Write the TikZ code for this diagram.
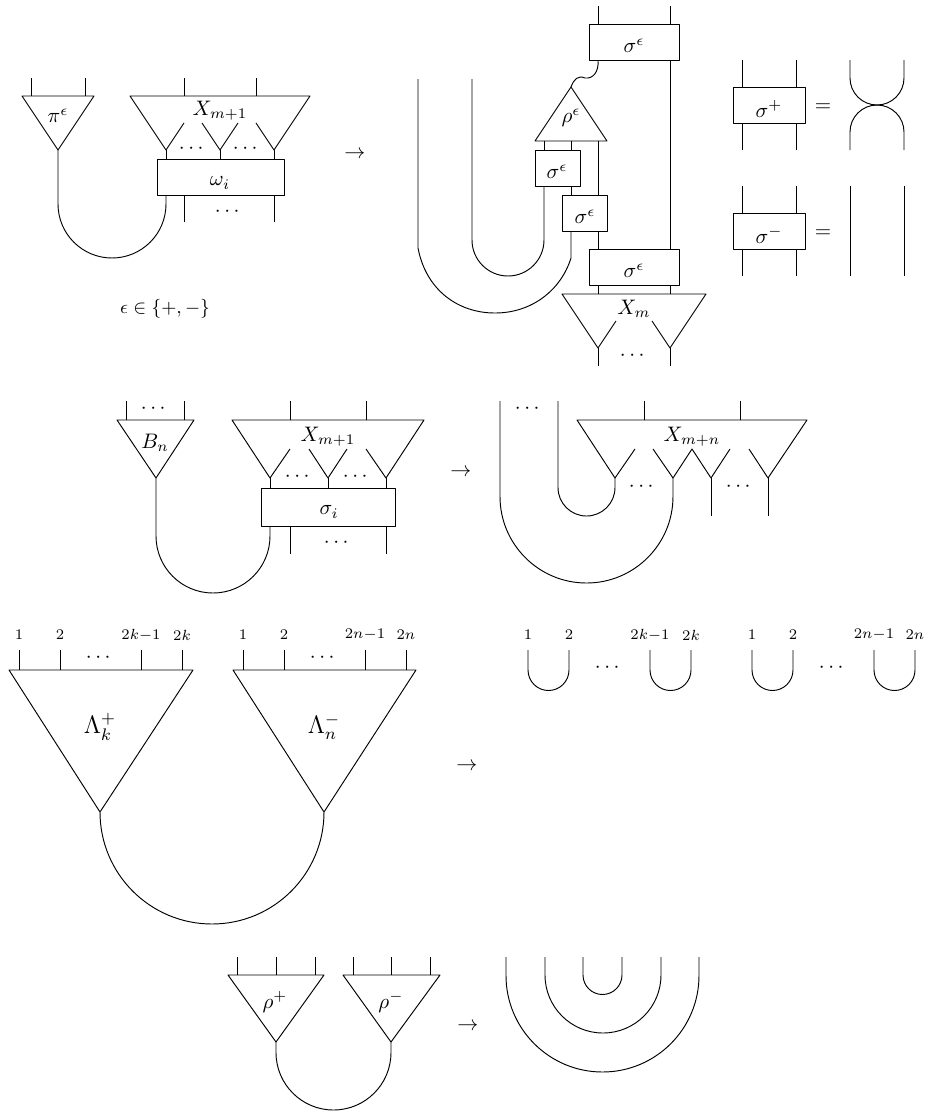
\documentclass[tikz,border=0pt]{standalone}
\usepackage{amsmath}
\tikzset{
  lab/.style={inner sep=0pt},
  numlab/.style={inner sep=0pt, font=\scriptsize},
}
\begin{document}
\begin{tikzpicture}[x=0.476pt, y=-0.476pt, line width=0.45pt, line join=round]
  \useasboundingbox (0, 0) rectangle (927, 1113);

  % Row 1, left: pi and X_{m+1} with omega_i
  \draw (22, 96) -- (94, 96) -- (58, 150) -- cycle;
  \draw (31, 78) -- (31, 96);
  \draw (85, 78) -- (85, 96);
  \node[lab] (piEps) at (58, 116) {$\pi^\epsilon$};
  \draw (58, 150) -- (58, 204) arc (180:0:54) -- (166, 195);
  \draw (184, 123) -- (166, 150) -- (130, 96) -- (310, 96) -- (274, 150) -- (256, 123);
  \draw (202, 123) -- (220, 150) -- (238, 123);
  \draw (184, 78) -- (184, 96);
  \draw (256, 78) -- (256, 96);
  \draw (166, 150) -- (166, 159);
  \draw (220, 150) -- (220, 159);
  \draw (274, 150) -- (274, 159);
  \draw (157, 159) rectangle (284, 195);
  \draw (184, 195) -- (184, 222);
  \draw (274, 195) -- (274, 222);
  \node[lab] (xTopA) at (220, 111) {$X_{m+1}$};
  \node[lab] (omegaI) at (220, 183) {$\omega_i$};
  \node[lab] (dotsA) at (193, 149) {$\cdots$};
  \node[lab] (dotsB) at (247, 149) {$\cdots$};
  \node[lab] (dotsC) at (229, 212) {$\cdots$};
  \node[lab, font=\small] (epsSet) at (165, 309) {$\epsilon\in\{+,-\}$};
  \node[lab] (arrowA) at (355, 155) {$\to$};

  % Row 1, middle: rewritten strands
  \draw (598, 6) -- (598, 24);
  \draw (670, 6) -- (670, 24);
  \draw (589, 24) rectangle (679, 60);
  \draw (670, 60) -- (670, 249);
  \draw (598, 60) .. controls (599, 72) and (593, 79) .. (585, 78)
    .. controls (578, 75) and (574, 79) .. (571, 87);
  \draw (571, 87) -- (607, 141) -- (535, 141) -- cycle;
  \node[lab] (rhoEps) at (571, 118) {$\rho^\epsilon$};
  \draw (544, 141) -- (544, 150);
  \draw (571, 141) -- (571, 150);
  \draw (598, 141) -- (598, 195);
  \draw (535, 150) rectangle (580, 186);
  \node[lab] (sigmaA) at (557, 172) {$\sigma^\epsilon$};
  \draw (571, 186) -- (571, 195);
  \draw (562, 195) rectangle (607, 231);
  \node[lab] (sigmaB) at (585, 217) {$\sigma^\epsilon$};
  \draw (598, 231) -- (598, 249);
  \draw (589, 249) rectangle (679, 285);
  \node[lab] (sigmaTop) at (634, 46) {$\sigma^\epsilon$};
  \node[lab] (sigmaBot) at (634, 271) {$\sigma^\epsilon$};
  \draw (598, 285) -- (598, 294);
  \draw (670, 285) -- (670, 294);
  \draw (472, 79) -- (472, 240) arc (180:0:36) -- (544, 186);
  \draw (418, 79) -- (418, 248) .. controls (426, 290) and (458, 313) .. (495, 313)
    .. controls (532, 313) and (561, 290) .. (571, 258) -- (571, 231);
  \draw (616, 321) -- (598, 348) -- (562, 294) -- (706, 294) -- (670, 348) -- (652, 321);
  \draw (598, 348) -- (598, 366);
  \draw (670, 348) -- (670, 366);
  \node[lab] (xM) at (634, 309) {$X_m$};
  \node[lab] (dotsD) at (634, 356) {$\cdots$};

  % Row 1, right: the two sigma moves
  \draw (742, 60) -- (742, 87);
  \draw (796, 60) -- (796, 87);
  \draw (733, 87) rectangle (805, 123);
  \draw (742, 123) -- (742, 150);
  \draw (796, 123) -- (796, 150);
  \node[lab] (sigmaPlus) at (769, 109) {$\sigma^+$};
  \node[lab] (eqA) at (823, 108) {$=$};
  \draw (850, 60) -- (850, 78) arc (180:0:27) -- (904, 60);
  \draw (850, 150) -- (850, 132) arc (180:360:27) -- (904, 150);
  \draw (742, 186) -- (742, 213);
  \draw (796, 186) -- (796, 213);
  \draw (733, 213) rectangle (805, 249);
  \draw (742, 249) -- (742, 276);
  \draw (796, 249) -- (796, 276);
  \node[lab] (sigmaMinus) at (769, 235) {$\sigma^-$};
  \node[lab] (eqB) at (823, 234) {$=$};
  \draw (850, 186) -- (850, 276);
  \draw (904, 186) -- (904, 276);

  % Row 2: B_n and X_{m+1} with sigma_i
  \begin{scope}[shift={(0, 400)}]
    \draw (117, 20) -- (194, 20) -- (156, 78) -- cycle;
    \draw (126, 1) -- (126, 20);
    \draw (184, 1) -- (184, 20);
    \node[lab] (dotsE) at (155, 9) {$\cdots$};
    \node[lab] (bN) at (155, 43) {$B_n$};
    \draw (156, 78) -- (156, 136) arc (180:0:57) -- (270, 126);
    \draw (290, 49) -- (270, 78) -- (232, 20) -- (424, 20) -- (386, 78) -- (366, 49);
    \draw (309, 49) -- (328, 78) -- (347, 49);
    \draw (290, 1) -- (290, 20);
    \draw (366, 1) -- (366, 20);
    \draw (270, 78) -- (270, 88);
    \draw (328, 78) -- (328, 88);
    \draw (386, 78) -- (386, 88);
    \draw (261, 88) rectangle (395, 126);
    \draw (290, 126) -- (290, 154);
    \draw (386, 126) -- (386, 154);
    \node[lab] (xTopB) at (328, 37) {$X_{m+1}$};
    \node[lab] (sigmaI) at (329, 112) {$\sigma_i$};
    \node[lab] (dotsF) at (299, 77) {$\cdots$};
    \node[lab] (dotsG) at (357, 77) {$\cdots$};
    \node[lab] (dotsH) at (338, 143) {$\cdots$};
    \node[lab] (arrowB) at (461, 73) {$\to$};

    \draw (500, 1) -- (500, 96.5) arc (180:0:86.5) -- (673, 78);
    \draw (558, 1) -- (558, 87.5) arc (180:0:28.5) -- (615, 78);
    \node[lab] (dotsI) at (529, 9) {$\cdots$};
    \draw (635, 49) -- (615, 78) -- (577, 20) -- (807, 20) -- (768, 78) -- (749, 49);
    \draw (653, 49) -- (673, 78) -- (692, 49) -- (711, 78) -- (730, 49);
    \draw (644, 1) -- (644, 20);
    \draw (740, 1) -- (740, 20);
    \draw (711, 78) -- (711, 116);
    \draw (768, 78) -- (768, 116);
    \node[lab] (xN) at (692, 37) {$X_{m+n}$};
    \node[lab] (dotsJ) at (643, 87) {$\cdots$};
    \node[lab] (dotsK) at (740, 87) {$\cdots$};
  \end{scope}

  % Row 3: Lambda triangles and their caps
  \begin{scope}[shift={(0, 600)}]
    \draw (9, 70) -- (193, 70) -- (100, 212) -- cycle;
    \draw (19, 50) -- (19, 70);
    \draw (60, 50) -- (60, 70);
    \draw (141, 50) -- (141, 70);
    \draw (182, 50) -- (182, 70);
    \node[lab] (dotsL) at (100, 58) {$\cdots$};
    \node[lab, font=\large] (lambdaK) at (100, 127) {$\Lambda_k^+$};
    \draw (233, 70) -- (416, 70) -- (324, 212) -- cycle;
    \draw (243, 50) -- (243, 70);
    \draw (284, 50) -- (284, 70);
    \draw (365, 50) -- (365, 70);
    \draw (406, 50) -- (406, 70);
    \node[lab] (dotsM) at (324, 58) {$\cdots$};
    \node[lab, font=\large] (lambdaN) at (324, 127) {$\Lambda_n^-$};
    \draw (100, 212) arc (180:0:112);
    \node[numlab] (oneA) at (19, 35) {$1$};
    \node[numlab] (twoA) at (60, 35) {$2$};
    \node[numlab] (lastA) at (141, 35) {$2k{-}1$};
    \node[numlab] (endA) at (182, 35) {$2k$};
    \node[numlab] (oneB) at (243, 35) {$1$};
    \node[numlab] (twoB) at (284, 35) {$2$};
    \node[numlab] (lastB) at (365, 35) {$2n{-}1$};
    \node[numlab] (endB) at (406, 35) {$2n$};
    \node[lab] (arrowC) at (467, 167) {$\to$};

    \draw (528, 50) -- (528, 70) arc (180:0:20.5) -- (569, 50);
    \draw (650, 50) -- (650, 70) arc (180:0:20.5) -- (691, 50);
    \draw (752, 50) -- (752, 70) arc (180:0:20.5) -- (793, 50);
    \draw (874, 50) -- (874, 70) arc (180:0:20.5) -- (915, 50);
    \node[numlab] (oneC) at (528, 35) {$1$};
    \node[numlab] (twoC) at (569, 35) {$2$};
    \node[numlab] (lastC) at (650, 35) {$2k{-}1$};
    \node[numlab] (endC) at (691, 35) {$2k$};
    \node[numlab] (oneD) at (752, 35) {$1$};
    \node[numlab] (twoD) at (793, 35) {$2$};
    \node[numlab] (lastD) at (874, 35) {$2n{-}1$};
    \node[numlab] (endD) at (915, 35) {$2n$};
    \node[lab] (dotsN) at (609, 68) {$\cdots$};
    \node[lab] (dotsO) at (833, 68) {$\cdots$};
  \end{scope}

  % Row 4: rho triangles and nested caps
  \begin{scope}[shift={(0, 900)}]
    \draw (228, 75) -- (324, 75) -- (276, 142) -- cycle;
    \draw (237, 57) -- (237, 75);
    \draw (276, 57) -- (276, 75);
    \draw (315, 57) -- (315, 75);
    \node[lab] (rhoPlus) at (275, 102) {$\rho^+$};
    \draw (343, 75) -- (440, 75) -- (391, 142) -- cycle;
    \draw (353, 57) -- (353, 75);
    \draw (391, 57) -- (391, 75);
    \draw (430, 57) -- (430, 75);
    \node[lab] (rhoMinus) at (391, 102) {$\rho^-$};
    \draw (276, 142) -- (276, 152.5) arc (180:0:57.5) -- (391, 142);
    \node[lab] (arrowD) at (468, 127) {$\to$};
    \draw (506, 57) -- (506, 75.5) arc (180:0:96.5) -- (699, 57);
    \draw (545, 57) -- (545, 75) arc (180:0:58) -- (661, 57);
    \draw (583, 57) -- (583, 75) arc (180:0:19.5) -- (622, 57);
  \end{scope}
\end{tikzpicture}
\end{document}
